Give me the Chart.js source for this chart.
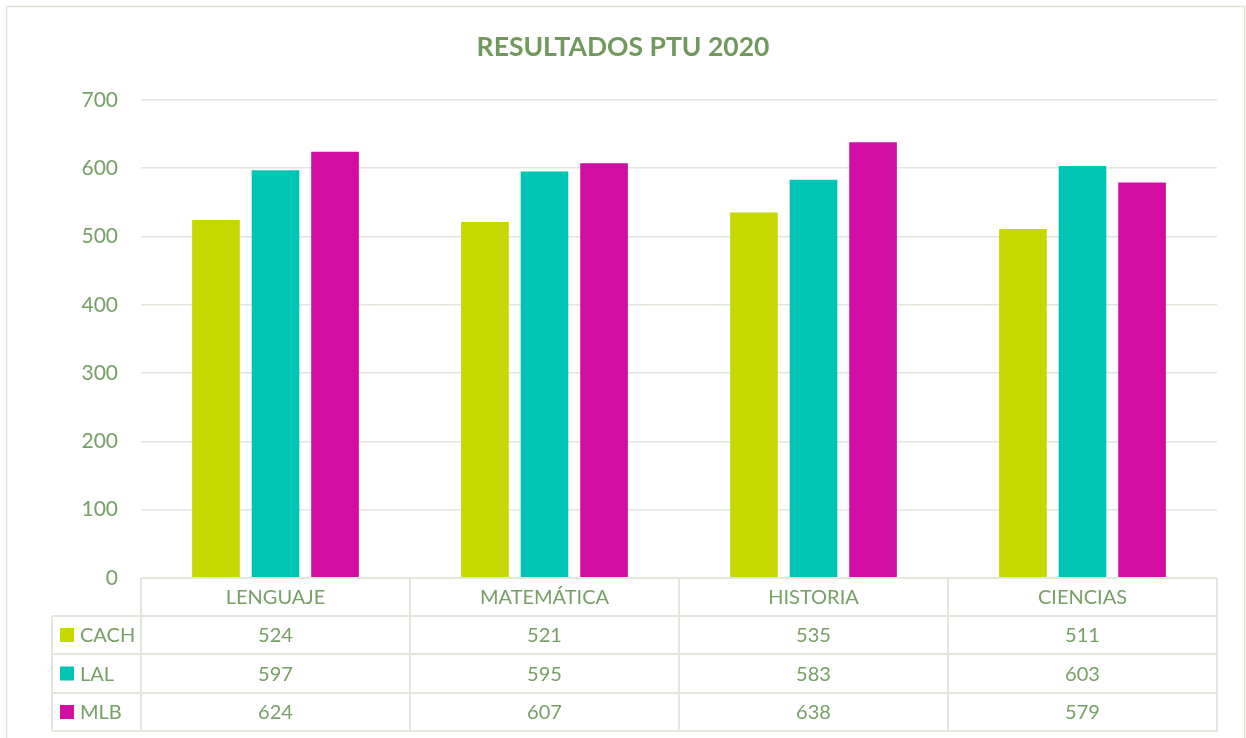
<!DOCTYPE html>
<html lang="es">
<head>
<meta charset="utf-8">
<title>Resultados PTU 2020</title>
<script src="https://cdn.jsdelivr.net/npm/chart.js@4/dist/chart.umd.min.js"></script>
<style>
  html, body { margin: 0; padding: 0; background: #ffffff; }
  #marco { position: relative; width: 1246px; height: 738px; }
</style>
</head>
<body>
<div id="marco"><canvas id="graficoPTU"></canvas></div>
<script>
/* Datos del gráfico */
var categorias = ['LENGUAJE', 'MATEMÁTICA', 'HISTORIA', 'CIENCIAS'];
var valoresCACH = [524, 521, 535, 511];
var valoresLAL = [597, 595, 583, 603];
var valoresMLB = [624, 607, 638, 579];
var marcasY = [0, 100, 200, 300, 400, 500, 600, 700];

/* Colores */
var VERDE_LIMA = '#C5D800';
var TURQUESA = '#00C5B5';
var MAGENTA = '#D10DA3';
var TEXTO = '#76A064';
var TITULO = '#6F9A5C';
var LINEA = '#E1E8DB';
var FUENTE = 'Lato';

var series = [
  { etiqueta: 'CACH', datos: valoresCACH, color: VERDE_LIMA },
  { etiqueta: 'LAL', datos: valoresLAL, color: TURQUESA },
  { etiqueta: 'MLB', datos: valoresMLB, color: MAGENTA }
];

/* Tabla de datos bajo el eje X y marco exterior */
var tablaDatos = {
  id: 'tablaDatos',
  afterDraw: function (chart) {
    var ctx = chart.ctx;
    var x = chart.scales.x;
    var area = chart.chartArea;
    var izq = 52;
    var filas = [area.bottom, area.bottom + 38, area.bottom + 76, area.bottom + 115, area.bottom + 153];
    var n = categorias.length;
    var anchoCat = (area.right - area.left) / n;
    var bordes = [];
    for (var i = 0; i <= n; i++) { bordes.push(area.left + anchoCat * i); }

    ctx.save();
    ctx.strokeStyle = LINEA;
    ctx.lineWidth = 2;
    ctx.beginPath();
    /* líneas horizontales */
    ctx.moveTo(area.left, filas[0]); ctx.lineTo(area.right, filas[0]);
    for (var f = 1; f < filas.length; f++) {
      ctx.moveTo(izq, filas[f]); ctx.lineTo(area.right, filas[f]);
    }
    /* líneas verticales */
    ctx.moveTo(izq, filas[1]); ctx.lineTo(izq, filas[4]);
    for (var b = 0; b < bordes.length; b++) {
      ctx.moveTo(bordes[b], filas[0]); ctx.lineTo(bordes[b], filas[4]);
    }
    ctx.stroke();

    ctx.fillStyle = TEXTO;
    ctx.font = '20px ' + FUENTE;
    ctx.textAlign = 'center';
    ctx.textBaseline = 'middle';
    for (var c = 0; c < n; c++) {
      var cx = x.getPixelForValue(c);
      ctx.fillText(categorias[c], cx, (filas[0] + filas[1]) / 2 + 1);
      for (var s = 0; s < series.length; s++) {
        ctx.fillText(String(series[s].datos[c]), cx, (filas[s + 1] + filas[s + 2]) / 2 + 1);
      }
    }
    /* leyenda dentro de la tabla */
    ctx.textAlign = 'left';
    for (var k = 0; k < series.length; k++) {
      var cy = (filas[k + 1] + filas[k + 2]) / 2;
      ctx.fillStyle = series[k].color;
      ctx.fillRect(60, cy - 7, 14, 14);
      ctx.fillStyle = TEXTO;
      ctx.fillText(series[k].etiqueta, 80, cy + 1);
    }

    /* marco exterior */
    ctx.strokeStyle = '#DCE5D5';
    ctx.lineWidth = 1.5;
    ctx.strokeRect(6.5, 6.5, 1238, 740);
    ctx.restore();
  }
};

new Chart(document.getElementById('graficoPTU'), {
  type: 'bar',
  data: {
    labels: categorias,
    datasets: series.map(function (s) {
      return {
        label: s.etiqueta,
        data: s.datos,
        backgroundColor: s.color,
        borderWidth: 0,
        categoryPercentage: 0.664,
        barPercentage: 0.8
      };
    })
  },
  options: {
    responsive: true,
    maintainAspectRatio: false,
    animation: false,
    layout: { padding: { left: 0, right: 0, top: 0, bottom: 160 } },
    plugins: {
      legend: { display: false },
      tooltip: { enabled: false },
      title: {
        display: true,
        text: 'RESULTADOS PTU 2020',
        color: TITULO,
        font: { family: FUENTE, size: 26.5, weight: 'bold' },
        padding: { top: 32, bottom: 36 }
      }
    },
    scales: {
      x: {
        display: false
      },
      y: {
        min: 0,
        max: 700,
        afterBuildTicks: function (eje) {
          eje.ticks = marcasY.map(function (v) { return { value: v }; });
        },
        afterFit: function (eje) { eje.width = 141; },
        border: { display: false },
        grid: { color: LINEA, lineWidth: 1.5, drawTicks: false },
        ticks: {
          color: TEXTO,
          padding: 23,
          font: { family: FUENTE, size: 21 }
        }
      },
      margenDerecho: {
        type: 'linear',
        position: 'right',
        display: true,
        min: 0,
        max: 700,
        afterFit: function (eje) { eje.width = 29; },
        border: { display: false },
        grid: { display: false, drawTicks: false },
        ticks: { display: false }
      }
    }
  },
  plugins: [tablaDatos]
});
</script>
</body>
</html>
